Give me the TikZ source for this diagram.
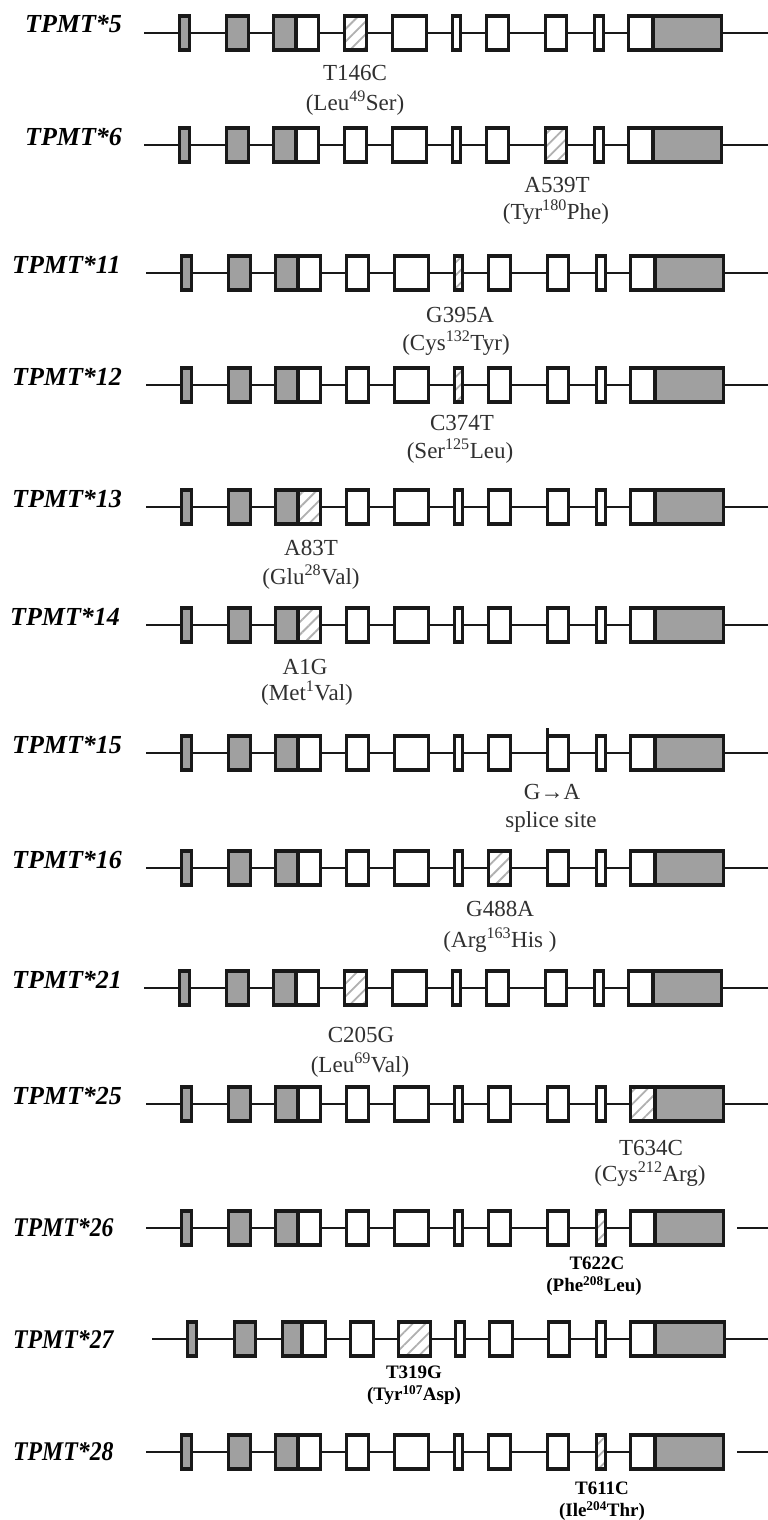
\documentclass[tikz,border=0pt]{standalone}
\usepackage{fontspec}
\setmainfont{Liberation Serif}
\usetikzlibrary{patterns.meta}
\definecolor{exgray}{HTML}{A0A0A0}
\definecolor{hatchc}{HTML}{B0B0B0}
\definecolor{mutc}{HTML}{303030}
\tikzset{
  intron/.style={line width=2.6pt, draw=black!90},
  exon/.style={line width=3.3pt, draw=black!90, line join=miter},
  hatched/.style={preaction={fill=white}, pattern={Lines[angle=45,distance=9pt,line width=1.8pt]}, pattern color=hatchc},
  rowlab/.style={font=\fontsize{26}{28}\selectfont\bfseries\itshape, anchor=base west, inner sep=0pt},
  rowlabB/.style={font=\fontsize{27}{29}\selectfont\bfseries\itshape, anchor=west, inner sep=0pt},
  mutlab/.style={font=\fontsize{23}{25}\selectfont, text=mutc, inner sep=0pt},
  mutlabB/.style={font=\fontsize{19}{21}\selectfont\bfseries, text=black, inner sep=0pt},
  splicemark/.style={line width=3.8pt, draw=black!90},
}
\def\stdexons{181.5/191.5/exgray, 228.5/250.5/exgray, 275.5/298/exgray, 298/320.5/white, 346.5/368.5/white, 394.5/428.5/white, 454.5/462.5/white, 488.5/510.5/white, 547.5/568.5/white, 596.5/605.5/white, 630.5/655/white, 655/723.5/exgray}
\def\altexons{187.5/196.5/exgray, 234.5/255.5/exgray, 282.5/302/exgray, 302/325.5/white, 350.5/373.5/white, 398.5/430.5/white, 455.5/464.5/white, 489.5/512.5/white, 548.5/569.5/white, 596.5/605.5/white, 630.5/655/white, 655/724.5/exgray}
% #1 name, #2 y, #3 dx, #4 hatched index, #5 exon list, #6 line start x
\newcommand{\exonrow}[6]{%
  \coordinate (#1s) at (#6+#3,#2);
  \coordinate (#1e) at (768,#2);
  \draw[intron] (#1s) -- (#1e);
  \foreach \a/\b/\c [count=\i] in #5 {
    \ifnum\i=#4\relax
      \draw[exon,hatched] (\a+#3,#2-17) rectangle (\b+#3,#2+17);
    \else
      \draw[exon,fill=\c] (\a+#3,#2-17) rectangle (\b+#3,#2+17);
    \fi
  }%
}
\begin{document}
\begin{tikzpicture}[x=1pt,y=-1pt]
\useasboundingbox[fill=white] (0,0) rectangle (768,1520);

% TPMT*5
\exonrow{r5}{33}{-2}{5}{\stdexons}{146}
\node[rowlab] (l5) at (25,33) {TPMT*5};
\node[mutlab] (m5a) at (355,73) {T146C};
\node[mutlab] (m5b) at (355,103) {(Leu\textsuperscript{49}Ser)};

% TPMT*6
\exonrow{r6}{145}{-2}{9}{\stdexons}{146}
\node[rowlab] (l6) at (25,145) {TPMT*6};
\node[mutlab] (m6a) at (557,185) {A539T};
\node[mutlab] (m6b) at (556,212) {(Tyr\textsuperscript{180}Phe)};

% TPMT*11
\exonrow{r11}{273}{0}{7}{\stdexons}{146}
\node[rowlab] (l11) at (12,273) {TPMT*11};
\node[mutlab] (m11a) at (460,315) {G395A};
\node[mutlab] (m11b) at (456,343) {(Cys\textsuperscript{132}Tyr)};

% TPMT*12
\exonrow{r12}{385}{0}{7}{\stdexons}{146}
\node[rowlab] (l12) at (12,385) {TPMT*12};
\node[mutlab] (m12a) at (462,423) {C374T};
\node[mutlab] (m12b) at (460,451) {(Ser\textsuperscript{125}Leu)};

% TPMT*13
\exonrow{r13}{507}{0}{4}{\stdexons}{146}
\node[rowlab] (l13) at (12,507) {TPMT*13};
\node[mutlab] (m13a) at (311,548) {A83T};
\node[mutlab] (m13b) at (311,577) {(Glu\textsuperscript{28}Val)};

% TPMT*14
\exonrow{r14}{625}{0}{4}{\stdexons}{146}
\node[rowlab] (l14) at (10,625) {TPMT*14};
\node[mutlab] (m14a) at (305,667) {A1G};
\node[mutlab] (m14b) at (307,693) {(Met\textsuperscript{1}Val)};

% TPMT*15
\exonrow{r15}{753}{0}{0}{\stdexons}{146}
\coordinate (sp1) at (547.5,753-25);
\coordinate (sp2) at (547.5,753+18);
\draw[splicemark] (sp1) -- (sp2);
\node[rowlab] (l15) at (12,753) {TPMT*15};
\node[mutlab] (m15a) at (552,792) {G→A};
\node[mutlab] (m15b) at (551,822) {splice site};

% TPMT*16
\exonrow{r16}{868}{0}{8}{\stdexons}{146}
\node[rowlab] (l16) at (12,868) {TPMT*16};
\node[mutlab] (m16a) at (500,909) {G488A};
\node[mutlab] (m16b) at (500,940) {(Arg\textsuperscript{163}His )};

% TPMT*21
\exonrow{r21}{988}{-2}{5}{\stdexons}{146}
\node[rowlab] (l21) at (12,988) {TPMT*21};
\node[mutlab] (m21a) at (361,1035) {C205G};
\node[mutlab] (m21b) at (360,1065) {(Leu\textsuperscript{69}Val)};

% TPMT*25
\exonrow{r25}{1104}{0}{11}{\stdexons}{146}
\node[rowlab] (l25) at (12,1104) {TPMT*25};
\node[mutlab] (m25a) at (651,1148) {T634C};
\node[mutlab] (m25b) at (650,1174) {(Cys\textsuperscript{212}Arg)};

% TPMT*26
\exonrow{r26}{1228}{0}{10}{\stdexons}{146}
\fill[white] (725.2,1228-3) rectangle (737,1228+3);
\node[rowlabB] (l26) at (13,1228) {\scalebox{0.88}[1]{TPMT*26}};
\node[mutlabB] (m26a) at (597,1263) {T622C};
\node[mutlabB] (m26b) at (594,1286) {(Phe\textsuperscript{208}Leu)};

% TPMT*27
\exonrow{r27}{1339}{0}{6}{\altexons}{152}
\node[rowlabB] (l27) at (13,1339) {\scalebox{0.88}[1]{TPMT*27}};
\node[mutlabB] (m27a) at (414,1372) {T319G};
\node[mutlabB] (m27b) at (414,1395) {(Tyr\textsuperscript{107}Asp)};

% TPMT*28
\exonrow{r28}{1452}{0}{10}{\stdexons}{146}
\fill[white] (725.2,1452-3) rectangle (737,1452+3);
\node[rowlabB] (l28) at (13,1452) {\scalebox{0.88}[1]{TPMT*28}};
\node[mutlabB] (m28a) at (602,1488) {T611C};
\node[mutlabB] (m28b) at (602,1511) {(Ile\textsuperscript{204}Thr)};
\end{tikzpicture}
\end{document}
